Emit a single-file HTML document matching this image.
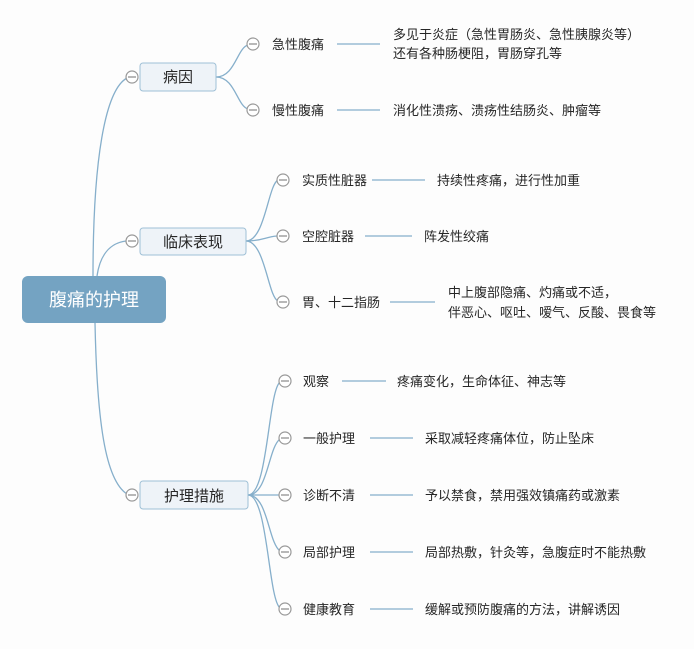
<!DOCTYPE html>
<html><head><meta charset="utf-8"><style>
html,body{margin:0;padding:0;background:#fdfdfd;}
svg text{font-family:"Liberation Sans","Noto Sans CJK SC",sans-serif;fill:#262626;}
</style></head><body>
<svg width="694" height="644" viewBox="0 0 694 644" xmlns="http://www.w3.org/2000/svg">
<g fill="none" stroke="#86afcb" stroke-width="1.3">
<path d="M93 276 C93 160 105 90 127 78"/>
<path d="M97 276 C100 255 110 243 126 241"/>
<path d="M95 323 C97 420 105 480 127 494"/>
<path d="M216 77 C235 77 237 48 248 45"/>
<path d="M216 77 C235 77 237 106 248 109"/>
<line x1="337" y1="44" x2="380" y2="44"/>
<line x1="337" y1="110" x2="380" y2="110"/>
<path d="M246 241 C265 241 268 185 278 180"/>
<path d="M246 241 C262 241 265 237 277 236"/>
<path d="M246 241 C265 241 268 297 278 301"/>
<line x1="372" y1="180" x2="425" y2="180"/>
<line x1="365" y1="236" x2="412" y2="236"/>
<line x1="390" y1="302" x2="435" y2="302"/>
<path d="M248 495 C268 495 268 392 280 382"/>
<path d="M248 495 C268 495 268 448 280 439"/>
<line x1="248" y1="495" x2="279" y2="495"/>
<path d="M248 495 C268 495 268 542 280 551"/>
<path d="M248 495 C268 495 268 598 280 608"/>
<line x1="342" y1="381" x2="386" y2="381"/>
<line x1="370" y1="438" x2="413" y2="438"/>
<line x1="370" y1="495" x2="413" y2="495"/>
<line x1="370" y1="552" x2="413" y2="552"/>
<line x1="370" y1="609" x2="413" y2="609"/>
</g>
<rect x="22" y="276" width="144" height="47" rx="6" fill="#74a3c2"/>
<text x="94" y="306" font-size="18" text-anchor="middle" style="fill:#fff">腹痛的护理</text>
<g fill="#eef3f8" stroke="#9fc0d6" stroke-width="1">
<rect x="140" y="63" width="76" height="28" rx="3"/>
<rect x="140" y="228" width="106" height="27" rx="3"/>
<rect x="140" y="481" width="108" height="28" rx="3"/>
</g>
<g font-size="15" text-anchor="middle">
<text x="178" y="82">病因</text>
<text x="193" y="247">临床表现</text>
<text x="194" y="501">护理措施</text>
</g>
<g fill="#fff" stroke="#999" stroke-width="1.2">
<circle cx="132" cy="77" r="6"/><circle cx="132" cy="241" r="6"/><circle cx="132" cy="495" r="6"/>
<circle cx="253" cy="44" r="6"/><circle cx="253" cy="110" r="6"/>
<circle cx="283" cy="180" r="6"/><circle cx="283" cy="236" r="6"/><circle cx="283" cy="302" r="6"/>
<circle cx="285" cy="381" r="6"/><circle cx="285" cy="438" r="6"/><circle cx="285" cy="495" r="6"/><circle cx="285" cy="552" r="6"/><circle cx="285" cy="609" r="6"/>
</g>
<g stroke="#888" stroke-width="1.2">
<line x1="128" y1="77" x2="136" y2="77"/><line x1="128" y1="241" x2="136" y2="241"/><line x1="128" y1="495" x2="136" y2="495"/>
<line x1="249" y1="44" x2="257" y2="44"/><line x1="249" y1="110" x2="257" y2="110"/>
<line x1="279" y1="180" x2="287" y2="180"/><line x1="279" y1="236" x2="287" y2="236"/><line x1="279" y1="302" x2="287" y2="302"/>
<line x1="281" y1="381" x2="289" y2="381"/><line x1="281" y1="438" x2="289" y2="438"/><line x1="281" y1="495" x2="289" y2="495"/><line x1="281" y1="552" x2="289" y2="552"/><line x1="281" y1="609" x2="289" y2="609"/>
</g>
<g font-size="13">
<text x="272" y="49">急性腹痛</text>
<text x="272" y="115">慢性腹痛</text>
<text x="302" y="185">实质性脏器</text>
<text x="302" y="241">空腔脏器</text>
<text x="302" y="307">胃、十二指肠</text>
<text x="303" y="386">观察</text>
<text x="303" y="443">一般护理</text>
<text x="303" y="500">诊断不清</text>
<text x="303" y="557">局部护理</text>
<text x="303" y="614">健康教育</text>
</g>
<g font-size="13">
<text x="393" y="39">多见于炎症（急性胃肠炎、急性胰腺炎等）</text>
<text x="393" y="58">还有各种肠梗阻，胃肠穿孔等</text>
<text x="393" y="115">消化性溃疡、溃疡性结肠炎、肿瘤等</text>
<text x="437" y="185">持续性疼痛，进行性加重</text>
<text x="424" y="241">阵发性绞痛</text>
<text x="448" y="297">中上腹部隐痛、灼痛或不适，</text>
<text x="448" y="317">伴恶心、呕吐、嗳气、反酸、畏食等</text>
<text x="397" y="386">疼痛变化，生命体征、神志等</text>
<text x="425" y="443">采取减轻疼痛体位，防止坠床</text>
<text x="425" y="500">予以禁食，禁用强效镇痛药或激素</text>
<text x="425" y="557">局部热敷，针灸等，急腹症时不能热敷</text>
<text x="425" y="614">缓解或预防腹痛的方法，讲解诱因</text>
</g>
</svg>
</body></html>
